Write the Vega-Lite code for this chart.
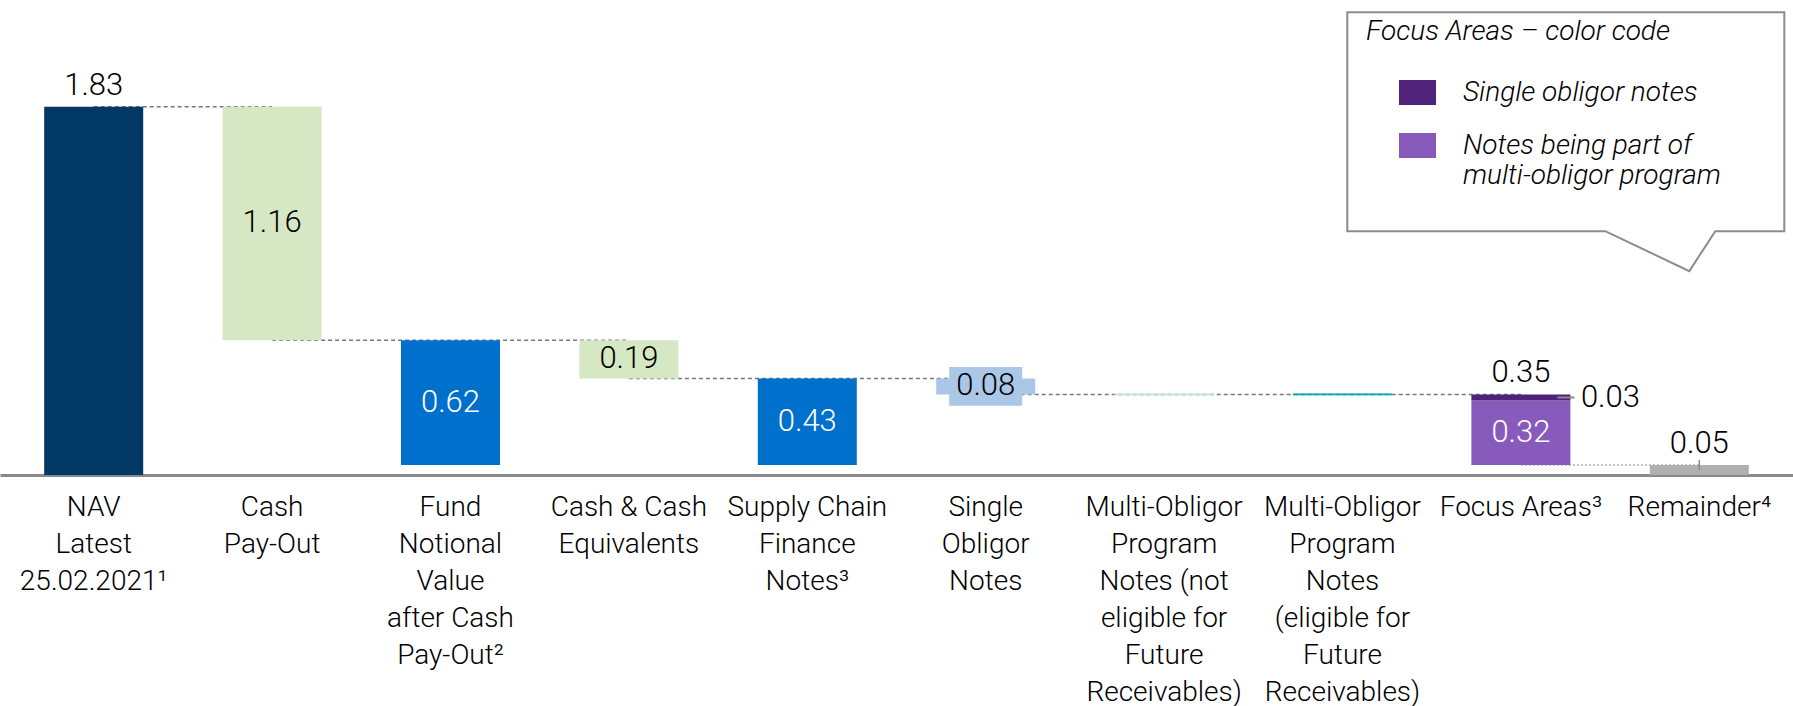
{
  "$schema": "https://vega.github.io/schema/vega-lite/v6.json",
  "width": 1793,
  "height": 706,
  "autosize": {"type": "fit", "contains": "padding"},
  "padding": 0,
  "background": "white",
  "config": {"view": {"stroke": null}},
  "data": {
    "values": [
      {"role": "bar", "cat": "NAV|Latest|25.02.2021¹", "group": "NAV", "lo": 0, "hi": 1.83, "label": "1.83", "lab": "none"},
      {"role": "bar", "cat": "Cash|Pay-Out", "group": "Cash Pay-Out", "lo": 0.67, "hi": 1.83, "label": "1.16", "lab": "dark"},
      {"role": "bar", "cat": "Fund|Notional|Value|after Cash|Pay-Out²", "group": "Fund Notional Value", "lo": 0.05, "hi": 0.67, "label": "0.62", "lab": "light"},
      {"role": "bar", "cat": "Cash & Cash|Equivalents", "group": "Cash & Cash Equivalents", "lo": 0.48, "hi": 0.67, "label": "0.19", "lab": "dark"},
      {"role": "bar", "cat": "Supply Chain|Finance|Notes³", "group": "Supply Chain Finance Notes", "lo": 0.05, "hi": 0.48, "label": "0.43", "lab": "light"},
      {"role": "bar", "cat": "Single|Obligor|Notes", "group": "Single Obligor Notes", "lo": 0.40, "hi": 0.48, "label": "0.08", "lab": "boxed"},
      {"role": "bar", "cat": "Multi-Obligor|Program|Notes (not|eligible for|Future|Receivables)", "group": "Multi-Obligor Program Notes (not eligible)", "lo": 0.396, "hi": 0.405, "label": "", "lab": "none"},
      {"role": "bar", "cat": "Multi-Obligor|Program|Notes|(eligible for|Future|Receivables)", "group": "Multi-Obligor Program Notes (eligible)", "lo": 0.396, "hi": 0.405, "label": "", "lab": "none"},
      {"role": "bar", "cat": "Focus Areas³", "group": "Notes being part of multi-obligor program", "lo": 0.05, "hi": 0.37, "label": "0.32", "lab": "light"},
      {"role": "bar", "cat": "Focus Areas³", "group": "Single obligor notes", "lo": 0.37, "hi": 0.40, "label": "0.03", "lab": "side"},
      {"role": "bar", "cat": "Remainder⁴", "group": "Remainder", "lo": 0, "hi": 0.05, "label": "0.05", "lab": "none"},
      {"role": "link", "link": 1, "cat": "NAV|Latest|25.02.2021¹", "level": 1.83, "kind": "step"},
      {"role": "link", "link": 1, "cat": "Cash|Pay-Out", "level": 1.83, "kind": "step"},
      {"role": "link", "link": 2, "cat": "Cash|Pay-Out", "level": 0.67, "kind": "step"},
      {"role": "link", "link": 2, "cat": "Cash & Cash|Equivalents", "level": 0.67, "kind": "step"},
      {"role": "link", "link": 3, "cat": "Cash & Cash|Equivalents", "level": 0.48, "kind": "step"},
      {"role": "link", "link": 3, "cat": "Single|Obligor|Notes", "level": 0.48, "kind": "step"},
      {"role": "link", "link": 4, "cat": "Single|Obligor|Notes", "level": 0.40, "kind": "step"},
      {"role": "link", "link": 4, "cat": "Focus Areas³", "level": 0.40, "kind": "step"},
      {"role": "link", "link": 5, "cat": "Focus Areas³", "level": 0.05, "kind": "remainder"},
      {"role": "link", "link": 5, "cat": "Remainder⁴", "level": 0.05, "kind": "remainder"},
      {"role": "total", "cat": "NAV|Latest|25.02.2021¹", "txt": "1.83", "top": 1.83},
      {"role": "total", "cat": "Focus Areas³", "txt": "0.35", "top": 0.40},
      {"role": "total", "cat": "Remainder⁴", "txt": "0.05", "top": 0.05},
      {"role": "callout", "cat": "Remainder⁴", "anchor": 1.0}
    ]
  },
  "encoding": {
    "x": {
      "field": "cat", "type": "nominal",
      "scale": {
        "domain": ["NAV|Latest|25.02.2021¹", "Cash|Pay-Out", "Fund|Notional|Value|after Cash|Pay-Out²", "Cash & Cash|Equivalents", "Supply Chain|Finance|Notes³", "Single|Obligor|Notes", "Multi-Obligor|Program|Notes (not|eligible for|Future|Receivables)", "Multi-Obligor|Program|Notes|(eligible for|Future|Receivables)", "Focus Areas³", "Remainder⁴"],
        "paddingInner": 0.445, "paddingOuter": 0.2477
      },
      "axis": {
        "title": null, "ticks": false, "domainColor": "#8a8a8a", "domainWidth": 3,
        "labelExpr": "split(datum.label, '|')", "labelAngle": 0, "labelAlign": "center",
        "labelBaseline": "top", "labelPadding": 18, "labelFontSize": 28, "labelLineHeight": 37,
        "labelFont": "Roboto", "labelFontWeight": 300, "labelColor": "#000000",
        "labelLimit": 0, "labelOverlap": false
      }
    }
  },
  "layer": [
    {
      "transform": [{"filter": "datum.role == 'callout'"}],
      "mark": {"type": "point", "shape": "M-0.704,-0.5232L0.17,-0.5232L0.17,-0.0852L0.032,-0.0852L-0.02,-0.0052L-0.188,-0.0852L-0.704,-0.0852Z", "size": 1000000, "filled": true, "fill": "white", "stroke": "#8c8c8c", "strokeWidth": 2, "opacity": 1},
      "encoding": {
        "y": {"field": "anchor", "type": "quantitative", "scale": {"domain": [0, 2.36], "nice": false}, "axis": null}
      }
    },
    {
      "transform": [{"filter": "datum.role == 'link' && datum.kind == 'step'"}],
      "mark": {"type": "line", "color": "#777777", "strokeWidth": 1.5, "strokeDash": [4, 3]},
      "encoding": {
        "y": {"field": "level", "type": "quantitative", "axis": null},
        "detail": {"field": "link", "type": "nominal"}
      }
    },
    {
      "transform": [{"filter": "datum.role == 'link' && datum.kind == 'remainder'"}],
      "mark": {"type": "line", "color": "#aaaaaa", "strokeWidth": 1.5, "strokeDash": [2, 2]},
      "encoding": {
        "y": {"field": "level", "type": "quantitative", "axis": null},
        "detail": {"field": "link", "type": "nominal"}
      }
    },
    {
      "transform": [{"filter": "datum.role == 'bar'"}],
      "mark": {"type": "bar"},
      "encoding": {
        "y": {"field": "lo", "type": "quantitative", "axis": null},
        "y2": {"field": "hi"},
        "color": {
          "field": "group", "type": "nominal",
          "scale": {
            "domain": ["NAV", "Cash Pay-Out", "Fund Notional Value", "Cash & Cash Equivalents", "Supply Chain Finance Notes", "Single Obligor Notes", "Multi-Obligor Program Notes (not eligible)", "Multi-Obligor Program Notes (eligible)", "Single obligor notes", "Notes being part of multi-obligor program", "Remainder"],
            "range": ["#023864", "#d5e8c3", "#0070cd", "#d5e8c3", "#0070cd", "#abc7e8", "#bfe3df", "#00a8a8", "#4f237a", "#885abb", "#b0b0b0"]
          },
          "legend": {
            "values": ["Single obligor notes", "Notes being part of multi-obligor program"],
            "orient": "none", "legendX": 1366, "legendY": 18, "padding": 0,
            "title": "Focus Areas – color code",
            "titleFont": "Roboto", "titleFontSize": 28, "titleFontStyle": "italic", "titleFontWeight": 300,
            "titleColor": "#000000", "titlePadding": 28, "titleLimit": 0,
            "labelFont": "Roboto", "labelFontSize": 28, "labelFontStyle": "italic", "labelFontWeight": 300,
            "labelColor": "#000000", "labelLimit": 0, "labelOffset": 27,
            "labelExpr": "datum.label == 'Notes being part of multi-obligor program' ? ['Notes being part of', 'multi-obligor program'] : datum.label",
            "symbolType": "M-1,-0.68L1,-0.68L1,0.68L-1,0.68Z", "symbolSize": 1369, "symbolStrokeWidth": 0,
            "symbolOffset": 33, "symbolOpacity": 1, "rowPadding": 20
          }
        }
      }
    },
    {
      "transform": [
        {"filter": "datum.role == 'bar' && datum.lab == 'boxed'"},
        {"fold": ["lo", "hi"], "as": ["end", "v"]},
        {"aggregate": [{"op": "mean", "field": "v", "as": "mid"}], "groupby": ["cat", "label"]}
      ],
      "mark": {"type": "point", "shape": "M-1,-0.53L1,-0.53L1,0.53L-1,0.53Z", "size": 5329, "filled": true, "color": "#abc7e8", "opacity": 1},
      "encoding": {
        "y": {"field": "mid", "type": "quantitative", "axis": null}
      }
    },
    {
      "transform": [
        {"filter": "datum.role == 'bar' && (datum.lab == 'dark' || datum.lab == 'boxed')"},
        {"fold": ["lo", "hi"], "as": ["end", "v"]},
        {"aggregate": [{"op": "mean", "field": "v", "as": "mid"}], "groupby": ["cat", "label"]}
      ],
      "mark": {"type": "text", "font": "Roboto", "fontWeight": 300, "fontSize": 31, "color": "#000000", "baseline": "middle", "align": "center"},
      "encoding": {
        "y": {"field": "mid", "type": "quantitative", "axis": null},
        "text": {"field": "label", "type": "nominal"}
      }
    },
    {
      "transform": [
        {"filter": "datum.role == 'bar' && datum.lab == 'light'"},
        {"fold": ["lo", "hi"], "as": ["end", "v"]},
        {"aggregate": [{"op": "mean", "field": "v", "as": "mid"}], "groupby": ["cat", "label"]}
      ],
      "mark": {"type": "text", "font": "Roboto", "fontWeight": 300, "fontSize": 31, "color": "#ffffff", "baseline": "middle", "align": "center"},
      "encoding": {
        "y": {"field": "mid", "type": "quantitative", "axis": null},
        "text": {"field": "label", "type": "nominal"}
      }
    },
    {
      "transform": [{"filter": "datum.role == 'total'"}],
      "mark": {"type": "text", "font": "Roboto", "fontWeight": 300, "fontSize": 31, "color": "#000000", "baseline": "alphabetic", "align": "center", "dy": -12},
      "encoding": {
        "y": {"field": "top", "type": "quantitative", "axis": null},
        "text": {"field": "txt", "type": "nominal"}
      }
    },
    {
      "transform": [
        {"filter": "datum.role == 'bar' && datum.lab == 'side'"},
        {"fold": ["lo", "hi"], "as": ["end", "v"]},
        {"aggregate": [{"op": "mean", "field": "v", "as": "mid"}], "groupby": ["cat", "label"]}
      ],
      "mark": {"type": "text", "font": "Roboto", "fontWeight": 300, "fontSize": 31, "color": "#000000", "baseline": "middle", "align": "left", "dx": 60},
      "encoding": {
        "y": {"field": "mid", "type": "quantitative", "axis": null},
        "text": {"field": "label", "type": "nominal"}
      }
    },
    {
      "transform": [
        {"filter": "datum.role == 'bar' && datum.lab == 'side'"},
        {"fold": ["lo", "hi"], "as": ["end", "v"]},
        {"aggregate": [{"op": "mean", "field": "v", "as": "mid"}], "groupby": ["cat", "label"]}
      ],
      "mark": {"type": "point", "shape": "M-1,0L1,0", "size": 289, "filled": false, "stroke": "#8a8a8a", "strokeWidth": 2, "opacity": 1, "xOffset": 45},
      "encoding": {
        "y": {"field": "mid", "type": "quantitative", "axis": null}
      }
    },
    {
      "transform": [{"filter": "datum.role == 'bar' && datum.group == 'Remainder'"}],
      "mark": {"type": "point", "shape": "M0,-1L0,1", "size": 100, "filled": false, "stroke": "#8a8a8a", "strokeWidth": 1.5, "opacity": 1},
      "encoding": {
        "y": {"field": "hi", "type": "quantitative", "axis": null}
      }
    }
  ]
}
